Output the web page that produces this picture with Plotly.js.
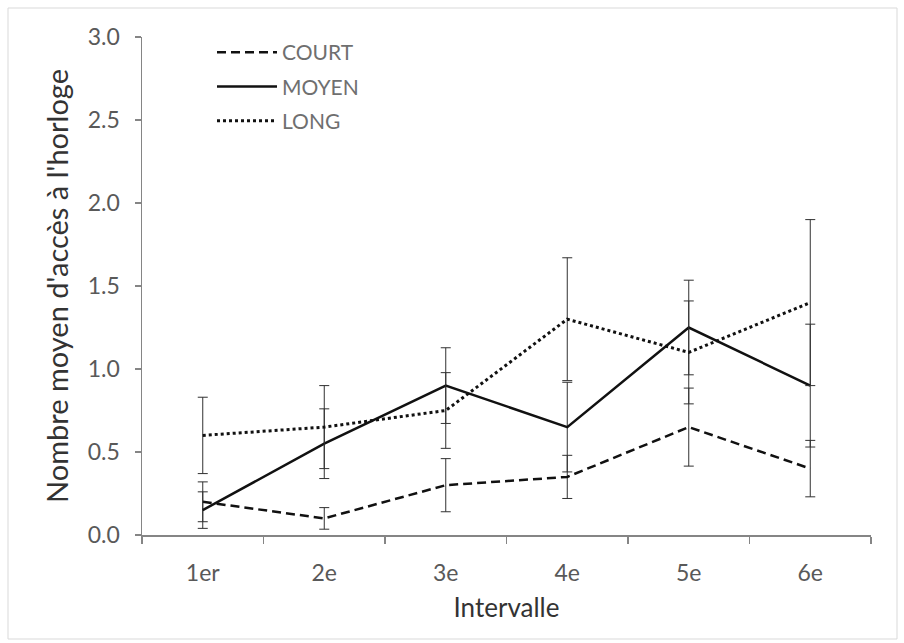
<!DOCTYPE html>
<html>
<head>
<meta charset="utf-8">
<script src="https://cdn.plot.ly/plotly-3.0.1.min.js"></script>
<style>
  html, body { margin: 0; padding: 0; background: #ffffff; }
  #chart { width: 904px; height: 643px; }
</style>
</head>
<body>
<div id="chart"></div>
<script>
// ---- Data ----
const categories = ["1er", "2e", "3e", "4e", "5e", "6e"];

const courtValues = [0.20, 0.10, 0.30, 0.35, 0.65, 0.40];
const courtErrors = [0.12, 0.065, 0.16, 0.13, 0.235, 0.17];

const moyenValues = [0.15, 0.55, 0.90, 0.65, 1.25, 0.90];
const moyenErrors = [0.11, 0.21, 0.228, 0.27, 0.285, 0.37];

const longValues = [0.60, 0.65, 0.75, 1.30, 1.10, 1.40];
const longErrors = [0.23, 0.25, 0.228, 0.37, 0.31, 0.50];

const seriesNames = ["COURT", "MOYEN", "LONG"];
const yTickValues = [0, 0.5, 1, 1.5, 2, 2.5, 3];
const yTickLabels = ["0.0", "0.5", "1.0", "1.5", "2.0", "2.5", "3.0"];

const xTitle = "Intervalle";
const yTitle = "Nombre moyen d'accès à l'horloge";

// ---- Styling ----
const FONT = "Lato, 'Open Sans', sans-serif";
const errStyle = (arr) => ({
  type: "data", array: arr, visible: true,
  color: "#303030", thickness: 1, width: 5
});

const traces = [
  {
    x: categories, y: courtValues, name: seriesNames[0], legendgroup: "a",
    type: "scatter", mode: "lines",
    line: { color: "#111111", width: 2.5, dash: "9px,5px" },
    error_y: errStyle(courtErrors)
  },
  {
    x: categories, y: moyenValues, name: seriesNames[1], legendgroup: "b",
    type: "scatter", mode: "lines",
    line: { color: "#111111", width: 2.5, dash: "solid" },
    error_y: errStyle(moyenErrors)
  },
  {
    x: categories, y: longValues, name: seriesNames[2], legendgroup: "c",
    type: "scatter", mode: "lines",
    line: { color: "#111111", width: 3, dash: "3px,3px" },
    error_y: errStyle(longErrors)
  }
];

const L = 142, R = 33, T = 37, B = 108;
const W = 904, H = 643;
const pw = W - L - R, ph = H - T - B;
const px2x = (p) => (p - L) / pw;
const px2y = (p) => (H - B - p) / ph;

const layout = {
  width: W, height: H,
  margin: { l: L, r: R, t: T, b: B, pad: 0 },
  paper_bgcolor: "#ffffff",
  plot_bgcolor: "#ffffff",
  font: { family: FONT, color: "#595959", size: 23 },
  showlegend: true,
  legend: {
    x: px2x(212), y: px2y(32), xanchor: "left", yanchor: "top",
    bgcolor: "rgba(0,0,0,0)", borderwidth: 0,
    font: { family: FONT, size: 21, color: "#6f6f6f" },
    itemwidth: 60,
    tracegroupgap: 4,
    traceorder: "grouped"
  },
  xaxis: {
    type: "category",
    range: [-0.5, 5.5],
    showline: true, linecolor: "#858585", linewidth: 1.5,
    showgrid: false, zeroline: false,
    ticks: "outside", tickson: "boundaries", ticklen: 7, tickcolor: "#858585", tickwidth: 1.5,
    tickfont: { family: FONT, size: 23, color: "#595959" },
    ticklabelstandoff: 17,
    title: { text: xTitle, font: { family: FONT, size: 26, color: "#333333" }, standoff: 13 }
  },
  yaxis: {
    range: [0, 3],
    tickmode: "array", tickvals: yTickValues, ticktext: yTickLabels,
    showline: true, linecolor: "#858585", linewidth: 1.5,
    showgrid: false, zeroline: false,
    ticks: "outside", ticklen: 6, tickcolor: "#858585", tickwidth: 1.5,
    tickfont: { family: FONT, size: 23, color: "#595959" },
    ticklabelstandoff: 10,
    title: { text: yTitle, font: { family: FONT, size: 29, color: "#333333" }, standoff: 10 }
  },
  shapes: [
    {
      type: "rect", xref: "paper", yref: "paper", layer: "below",
      x0: px2x(8), x1: px2x(897), y0: px2y(639), y1: px2y(8),
      line: { color: "#d9d9d9", width: 1 }, fillcolor: "rgba(0,0,0,0)"
    }
  ]
};

Plotly.newPlot("chart", traces, layout, { displayModeBar: false, staticPlot: true });
</script>
</body>
</html>
